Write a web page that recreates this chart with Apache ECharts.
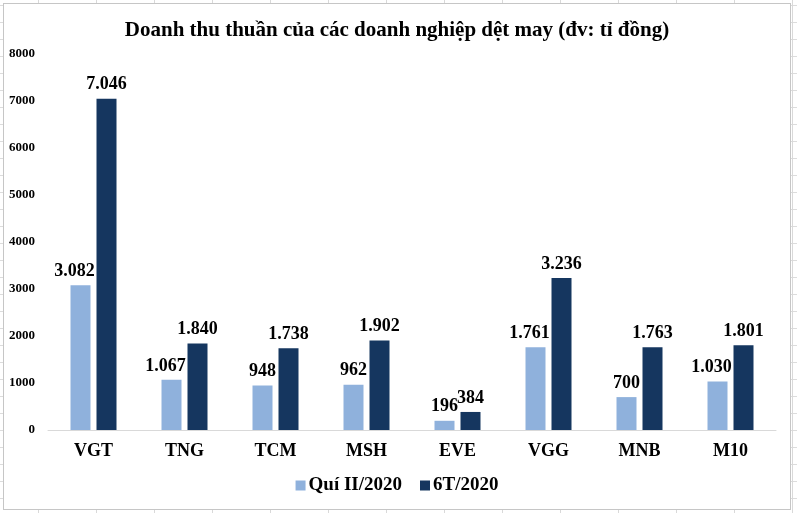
<!DOCTYPE html>
<html>
<head>
<meta charset="utf-8">
<script src="https://cdn.jsdelivr.net/npm/echarts@6/dist/echarts.min.js"></script>
<style>
html,body{margin:0;padding:0;width:797px;height:513px;overflow:hidden;}
body{
  background-color:#fff;
  background-image:
    repeating-linear-gradient(to right, transparent 0, transparent 38px, #d9d9d9 38px, #d9d9d9 39px, transparent 39px, transparent 58px),
    repeating-linear-gradient(to bottom, transparent 0, transparent 5px, #dcdcdc 5px, #dcdcdc 6px, transparent 6px, transparent 17px);
  background-size:58px 100%, 100% 17px;
  background-position:0 0, 0 0;
}
#chart{position:absolute;left:3px;top:3px;width:788px;height:507px;background:#fff;border:1px solid #c6c6c6;box-sizing:border-box;}
</style>
</head>
<body>
<div id="chart"></div>
<script>
var categories = ['VGT','TNG','TCM','MSH','EVE','VGG','MNB','M10'];
var seriesNames = ['Quí II/2020','6T/2020'];
var q2Values = [3082,1067,948,962,196,1761,700,1030];
var h1Values = [7046,1840,1738,1902,384,3236,1763,1801];
var yTicks = {min:0, max:8000, interval:1000};

var FONT = "'Liberation Serif','Times New Roman',serif";
function fmt(v){
  return String(v).replace(/\B(?=(\d{3})+(?!\d))/g,'.');
}
var chart = echarts.init(document.getElementById('chart'));
var q2Data = q2Values.map(function(v){
  return v >= 1000 ? {value:v, label:{offset:[-6,0]}} : {value:v};
});
var labelStyle = {
  show:true, position:'top', distance:5,
  fontFamily:FONT, fontWeight:'bold', fontSize:18, color:'#000',
  formatter:function(p){return fmt(p.value);}
};
chart.setOption({
  animation:false,
  title:{
    text:'Doanh thu thuần của các doanh nghiệp dệt may (đv: tỉ đồng)',
    left:'center', top:11,
    textStyle:{fontFamily:FONT, fontWeight:'bold', fontSize:21, color:'#000'}
  },
  legend:{
    data:seriesNames, bottom:9, left:'center',
    itemWidth:10, itemHeight:10, itemGap:18,
    icon:'rect',
    textStyle:{fontFamily:FONT, fontWeight:'bold', fontSize:19, color:'#000', padding:[0,0,0,-2]}
  },
  grid:{left:44, right:14, top:50, bottom:79, containLabel:false},
  xAxis:{
    type:'category', data:categories,
    axisLine:{lineStyle:{color:'#d9d9d9', width:1}},
    axisTick:{show:false},
    axisLabel:{fontFamily:FONT, fontWeight:'bold', fontSize:18, color:'#000', margin:12}
  },
  yAxis:{
    type:'value', min:yTicks.min, max:yTicks.max, interval:yTicks.interval,
    axisLine:{show:false}, axisTick:{show:false}, splitLine:{show:false},
    axisLabel:{fontFamily:FONT, fontWeight:'bold', fontSize:13, color:'#000', margin:13,
      formatter:function(v){return String(v);}}
  },
  series:[
    {name:seriesNames[0], type:'bar', data:q2Data, barWidth:20, barGap:'30%',
     itemStyle:{color:'#8FB1DC'}, label:labelStyle},
    {name:seriesNames[1], type:'bar', data:h1Values, barWidth:20,
     itemStyle:{color:'#15365F'}, label:labelStyle}
  ]
});
</script>
</body>
</html>
